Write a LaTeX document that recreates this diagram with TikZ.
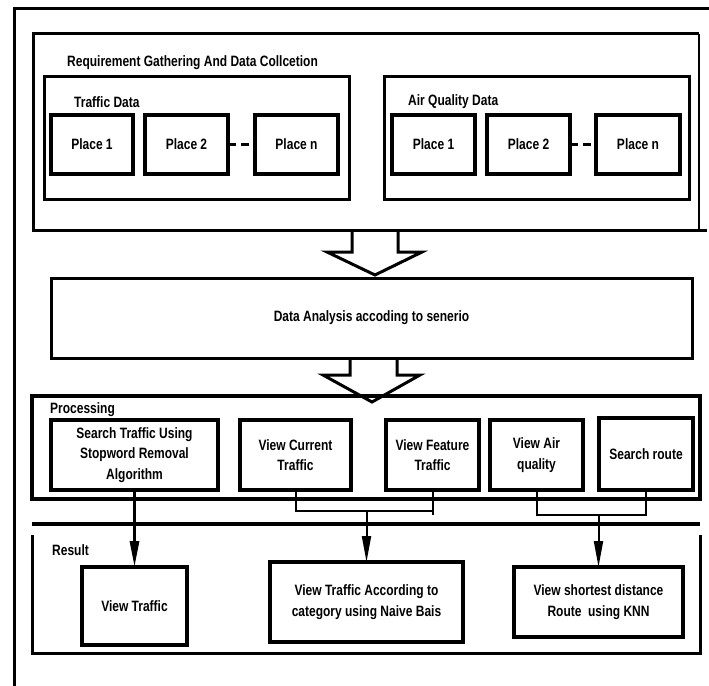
\documentclass[tikz,border=0pt]{standalone}
\usepackage{fontspec}
\setmainfont{Liberation Sans}[FakeStretch=0.8]
\usetikzlibrary{arrows.meta,calc}
\begin{document}
\begin{tikzpicture}[x=1pt,y=-1pt,
  font=\fontsize{15}{20.5}\selectfont\bfseries,
  box/.style={draw, line width=3.5pt, align=center, inner sep=0pt, outer sep=0pt},
  cont/.style={draw, line width=3pt, inner sep=0pt, outer sep=0pt},
  lbl/.style={anchor=west, inner sep=0pt},
  conn/.style={line width=2pt},
  tip/.style={-{Triangle[length=26pt,width=9pt]}},
  blockarrow/.style={line width=3pt, line join=miter},
]
\useasboundingbox (0,0) rectangle (709,685);
\clip (0,0) rectangle (709,685);

% outer frame
\node[cont, minimum width=720pt, minimum height=700pt] (frame) at (374,359) {};

% requirement gathering block
\node[inner sep=0pt, outer sep=0pt, minimum width=666pt, minimum height=196pt] (req) at (366,132) {};
\draw[line width=3pt] (req.north east) -- (req.north west) -- (req.south west) -- ($(req.south east)+(8,0)$);
\draw[line width=1.2pt] (req.north east) -- (req.south east);
\node[lbl] (reqt) at (67,63) {Requirement Gathering And Data Collcetion};

\node[cont, minimum width=305pt, minimum height=123pt] (traffic) at (196.5,137.5) {};
\node[lbl] (trt) at (74,102) {Traffic Data};
\node[box, minimum width=82pt, minimum height=59pt] (tp1) at (92,144.5) {Place 1};
\node[box, minimum width=83pt, minimum height=59pt] (tp2) at (186.5,144.5) {Place 2};
\node[box, minimum width=83pt, minimum height=59pt] (tpn) at (296.5,144.5) {Place n};
\draw[line width=2.5pt, dash pattern=on 8pt off 5pt] (tp2.east) -- (tpn.west);

\node[cont, minimum width=305pt, minimum height=123pt] (air) at (536.5,137.5) {};
\node[lbl] (airt) at (408,102) {Air Quality Data};
\node[box, minimum width=83pt, minimum height=59pt] (ap1) at (433.5,144.5) {Place 1};
\node[box, minimum width=83pt, minimum height=59pt] (ap2) at (528.5,144.5) {Place 2};
\node[box, minimum width=84pt, minimum height=59pt] (apn) at (638,144.5) {Place n};
\draw[line width=2.5pt, dash pattern=on 8pt off 5pt] (ap2.east) -- (apn.west);

% block arrow 1
\draw[blockarrow] (352,230) -- (352,252) -- (327,252) -- (375,275) -- (422,252) -- (398,252) -- (398,230);

% data analysis
\node[box, line width=3pt, minimum width=641pt, minimum height=80pt] (ana) at (371.5,318) {Data Analysis accoding to senerio};

% block arrow 2
\draw[blockarrow] (350,358) -- (350,375) -- (323,375) -- (372,402) -- (420,375) -- (397,375) -- (397,358);

% processing
\node[cont, line width=3.5pt, minimum width=668pt, minimum height=103pt] (proc) at (366,447.5) {};
\node[lbl] (proct) at (50,410) {Processing};
\node[box, minimum width=167pt, minimum height=70pt] (search) at (134.5,455) {Search Traffic Using\\Stopword Removal\\Algorithm};
\node[box, minimum width=111pt, minimum height=70pt] (current) at (295.5,455) {View Current\\Traffic};
\node[box, minimum width=93pt, minimum height=70pt] (feature) at (432.5,455) {View Feature\\Traffic};
\node[box, minimum width=93pt, minimum height=70pt] (airq) at (536.5,455) {View Air\\quality};
\node[box, minimum width=94pt, minimum height=72pt] (route) at (646,454) {Search route};

% separator
\coordinate (sepl) at (32,524);
\coordinate (sepr) at (700,524);
\draw[line width=4pt] (sepl) -- (sepr);

% result
\coordinate (rtl) at (32,535);
\coordinate (rbl) at (32,653);
\coordinate (rbr) at (700,653);
\coordinate (rtr) at (700,535);
\draw[line width=3pt] (rtl) -- (rbl) -- (rbr) -- (rtr);
\node[lbl] (rest) at (52,550) {Result};
\node[box, minimum width=105pt, minimum height=78pt] (vtraffic) at (134.5,606) {View Traffic};
\node[box, minimum width=193pt, minimum height=80pt] (vcat) at (366.5,602) {View Traffic According to\\category using Naive Bais};
\node[box, minimum width=169pt, minimum height=70pt] (vshort) at (598.5,602) {View shortest distance\\Route\ \ using KNN};

% connectors
\draw[line width=3pt, tip] (search.south) -- (vtraffic.north);

\coordinate (m1) at (366.5,511);
\draw[conn] (current.south) -- (current.south |- m1) -- (feature.south |- m1);
\draw[conn] (feature.south) -- ($(feature.south |- m1)+(0,4)$);
\draw[conn, tip] (m1) -- (vcat.north);

\coordinate (m2) at (598.5,515);
\draw[conn] (airq.south) -- (airq.south |- m2) -- (route.south |- m2) -- (route.south);
\draw[conn, tip] (m2) -- (vshort.north);
\end{tikzpicture}
\end{document}
